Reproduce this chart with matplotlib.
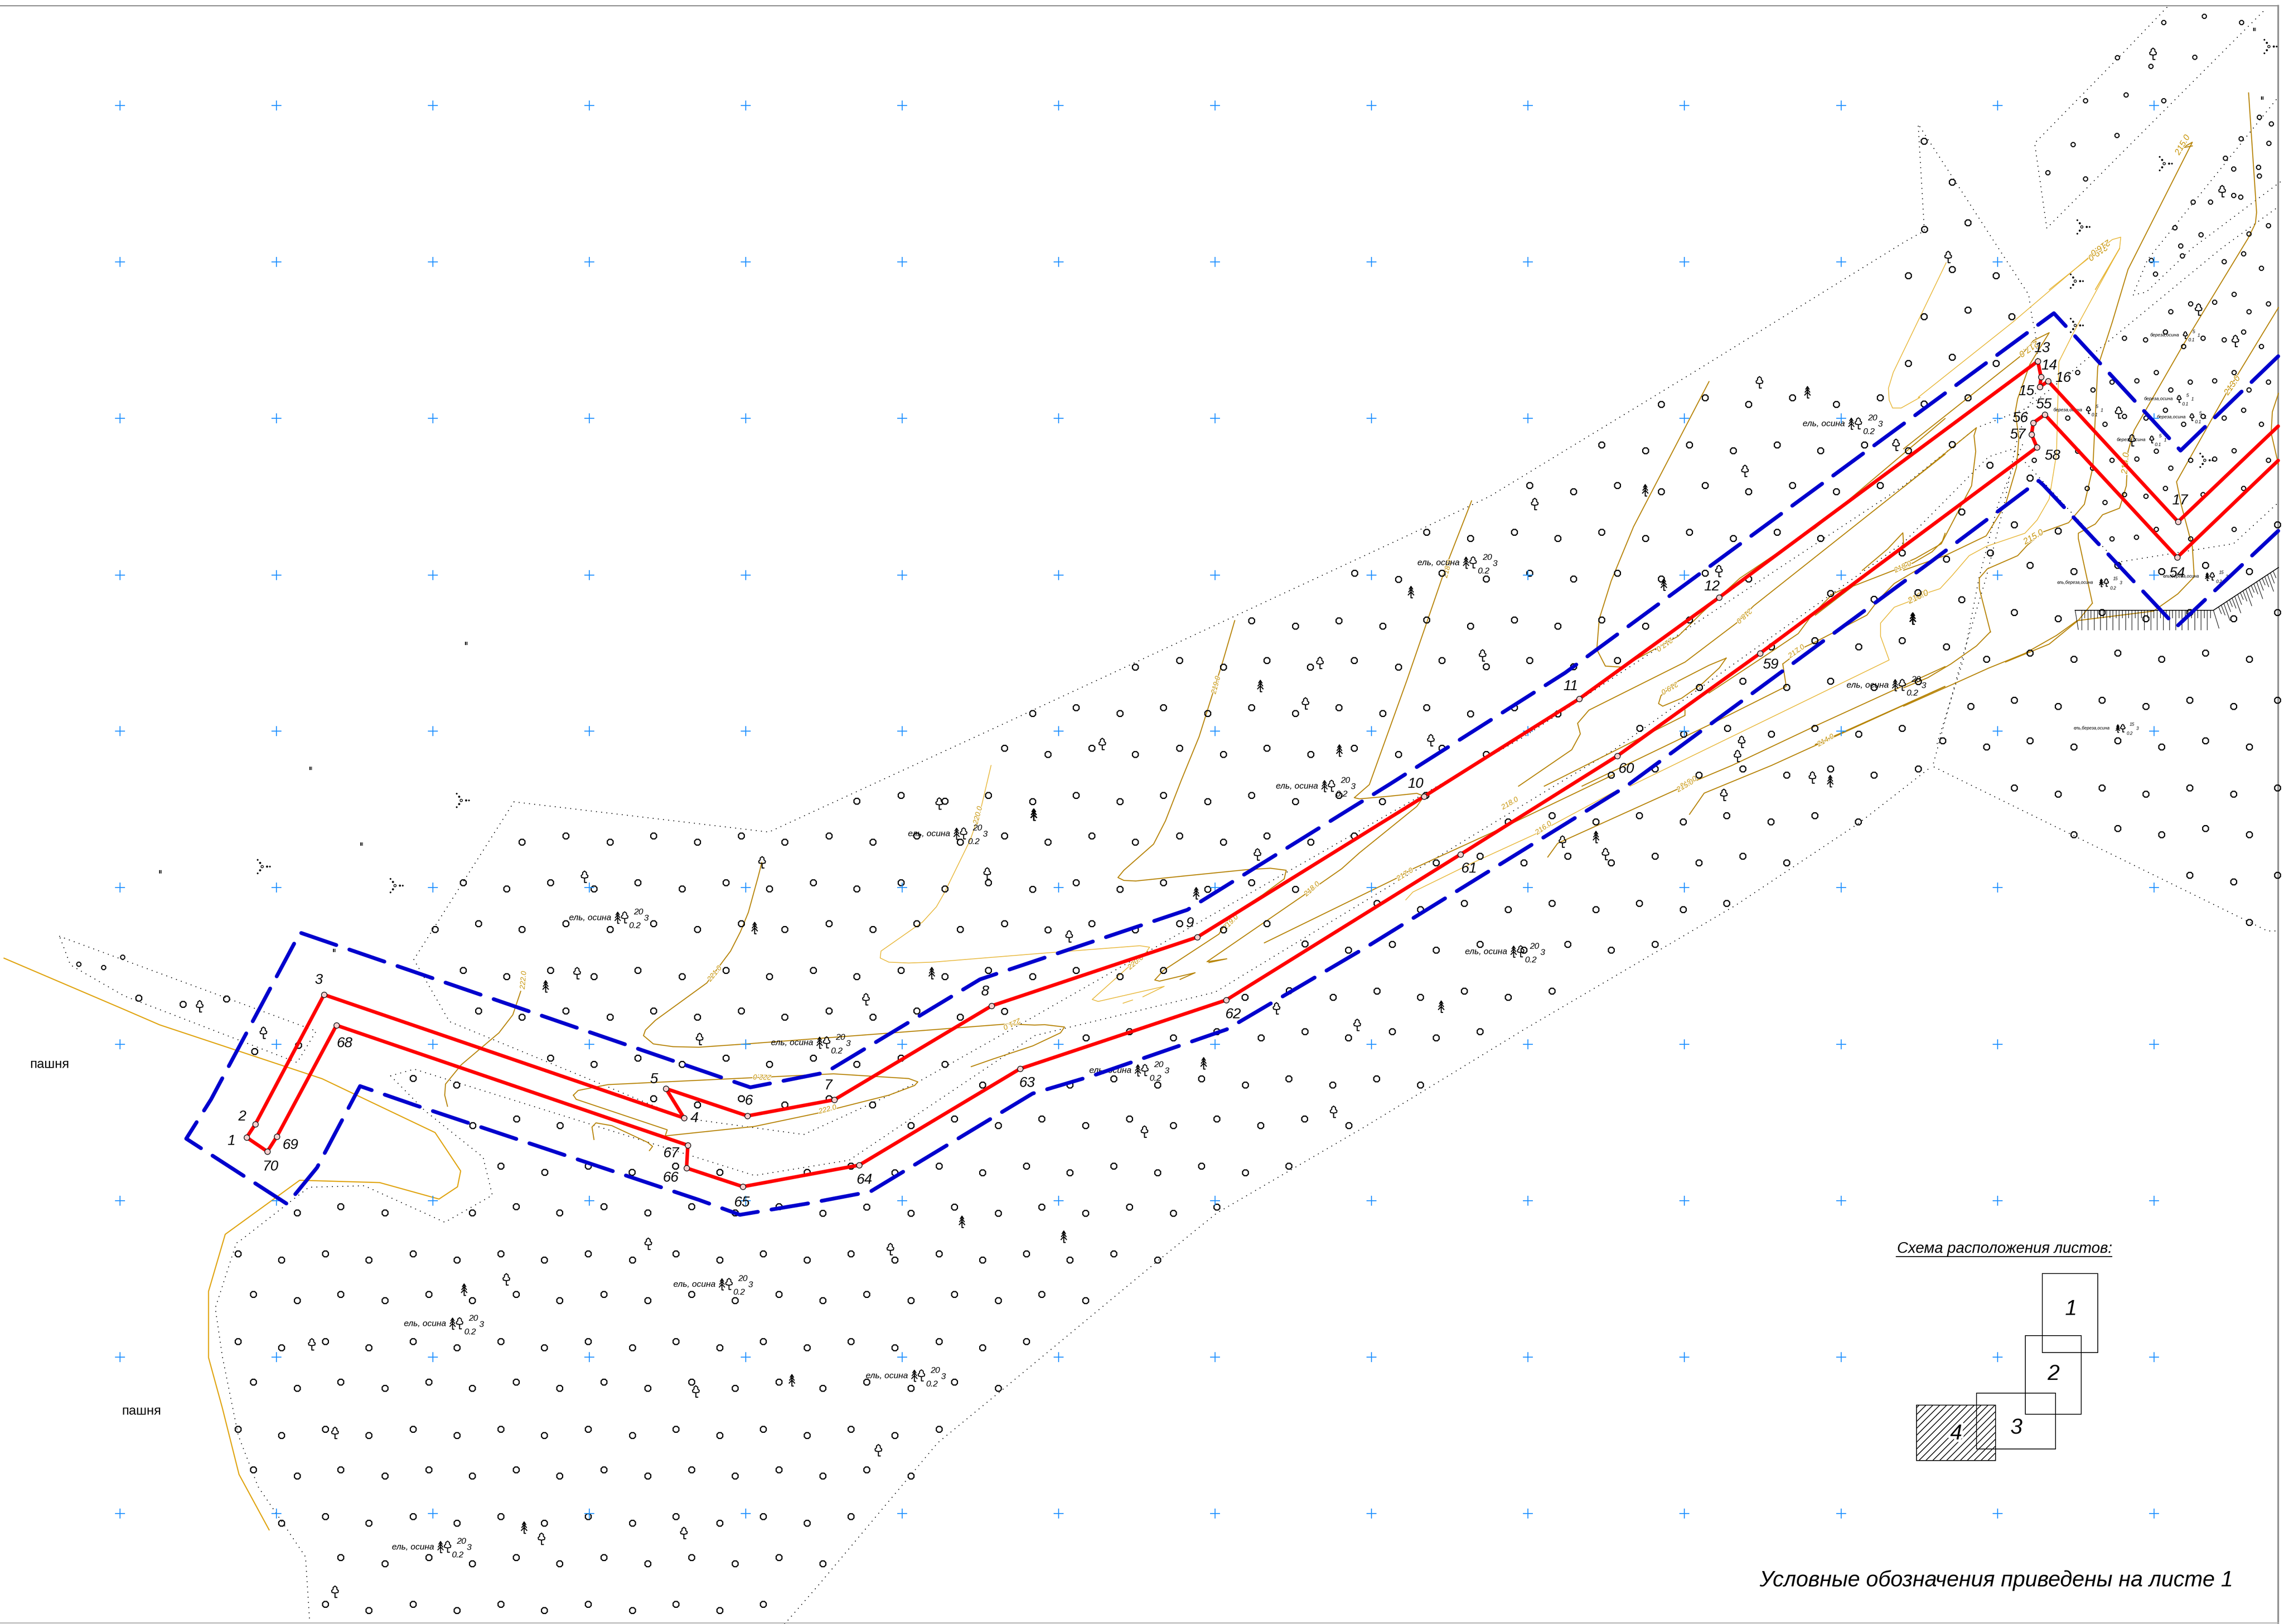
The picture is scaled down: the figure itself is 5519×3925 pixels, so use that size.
import matplotlib
matplotlib.use('Agg')
import matplotlib.pyplot as plt
from matplotlib.path import Path
from matplotlib.patches import Rectangle
import matplotlib.patheffects as pe

plt.rcParams['font.family'] = ['Liberation Sans', 'DejaVu Sans']
plt.rcParams['lines.scale_dashes'] = False
plt.rcParams['hatch.linewidth'] = 0.45

# map frames the values were read in: x0, y0, width, height (sheet pixels)
Z1 = (4400, 2900, 1119, 1025)
Z2 = (4600, 600, 919, 1000)
Z3 = (300, 2200, 1000, 800)
Z5 = (480, 2900, 1500, 1025)
Z6 = (1000, 1850, 1500, 1050)
Z7 = (1950, 2600, 1500, 1300)
Z8 = (2400, 1500, 1500, 1100)
Z9 = (3400, 900, 1300, 1000)
Z10 = (3300, 1850, 1500, 1000)
Z11 = (4600, 0, 919, 700)
Z12 = (4600, 1500, 919, 800)


def fr(box, pts):
    x0, y0, w, h = box
    return [(x0 + x * w / 1568, y0 + y * h / 1568) for x, y in pts]


def rows(box, table):
    return fr(box, [(x, y) for y, xs in table.items() for x in xs])


# survey grid
GRID_X = [290, 668, 1046, 1424, 1802, 2180, 2558, 2936, 3314, 3692, 4070, 4449, 4827, 5205]
GRID_Y = [255, 633, 1011, 1390, 1767, 2145, 2524, 2902, 3280, 3658]

# trees (big circles), by reading frame: {row y: [x, ...]}
TREES_Z5 = {
    25: [359, 802, 1023, 1245, 1466], 48: [249, 470, 691, 912, 1134, 1355],
    199: [99, 320, 541, 763, 984, 1205, 1426], 222: [209, 430, 652, 873, 1095, 1316, 1537],
    349: [138, 359, 581, 802, 1023, 1245, 1466], 372: [249, 470, 691, 912, 1134, 1355],
    523: [99, 320, 541, 763, 984, 1205, 1426], 546: [209, 430, 652, 873, 1095, 1316, 1537],
    673: [138, 359, 581, 802, 1023, 1245, 1466], 696: [249, 470, 691, 912, 1134, 1355],
    847: [99, 320, 541, 763, 984, 1205, 1426], 870: [209, 430, 652, 873, 1095, 1316, 1537],
    997: [138, 359, 581, 802, 1023, 1245, 1466], 1020: [249, 470, 691, 912, 1134, 1355],
    1171: [320, 541, 763, 984, 1205, 1426], 1194: [209, 430, 652, 873, 1095, 1316, 1537],
    1321: [359, 581, 802, 1023, 1245, 1466], 1344: [470, 691, 912, 1134, 1355],
    1495: [320, 541, 763, 984, 1205, 1426], 1518: [430, 652, 873, 1095, 1316],
}
TREES_Z7 = {
    8: [775, 996, 1217, 1438], 26: [443, 664, 885, 1107, 1328, 1549], 66: [55], 84: [165],
    126: [372, 593, 814, 1035, 1257], 145: [262, 483, 704, 925, 1146, 1368],
    263: [111, 333, 554, 775, 996, 1217], 282: [222, 443, 664, 885, 1107],
    382: [151, 372, 593, 814, 1035], 400: [40, 262, 483, 704, 925],
    519: [111, 333, 554, 775], 537: [222, 443, 664, 885],
    637: [151, 372, 593], 655: [40, 262, 483, 704],
    774: [111, 333, 554], 793: [222, 443],
    893: [151, 372], 911: [40, 262, 483],
    1030: [111, 333], 1048: [222],
    1148: [151], 1166: [40, 262], 1285: [111], 1422: [40],
}
TREES_Z6 = {
    107: [1230, 1451], 129: [1119, 1341],
    254: [384, 605, 827, 1048, 1270], 277: [273, 495, 716, 937, 1159, 1380],
    423: [124, 345, 566, 788, 1009, 1230, 1451], 445: [234, 455, 677, 898, 1119, 1341],
    570: [163, 384, 605, 827, 1048, 1270], 592: [53, 273, 495, 716, 937, 1159, 1380],
    739: [124, 345, 566, 788, 1009, 1230, 1451], 762: [234, 455, 677, 898, 1119, 1341],
    886: [163, 384, 605, 827, 1048, 1270], 908: [273, 495, 716, 937, 1159, 1380],
    1056: [345, 566, 788, 1009, 1230], 1078: [455, 677, 898, 1119, 1341],
    1153: [108], 1202: [605, 827], 1225: [716, 937], 1276: [259], 1299: [148, 369],
    1446: [219, 440, 661], 1468: [330, 551, 772, 993],
}
TREES_Z8 = {
    0: [652, 873], 18: [763, 984], 137: [470, 691, 912], 159: [359, 581, 801, 1023],
    299: [209, 430, 652, 873], 320: [99, 320, 541, 763, 984],
    439: [28, 249, 470, 691, 912], 461: [138, 359, 581, 802, 1023],
    601: [209, 430, 652, 873], 623: [99, 320, 541, 763],
    741: [28, 249, 470, 691, 912], 763: [138, 359, 581, 802],
    903: [209, 430, 652], 925: [99, 320, 541, 763],
    1043: [28, 249, 470, 691], 1065: [138, 359, 581],
    1113: [787], 1135: [897], 1205: [209, 430], 1226: [99, 320],
    1275: [747], 1297: [636, 858], 1345: [28],
    1415: [344, 565, 787], 1437: [234, 455, 676, 897],
}
TREES_Z9 = {
    96: [868, 1123, 1379], 120: [740, 995, 1251],
    274: [567, 822, 1078, 1333], 297: [695, 950, 1205],
    428: [357, 613, 868, 1123, 1379], 451: [485, 740, 995, 1251],
    605: [57, 312, 567, 822, 1078], 629: [184, 439, 695, 950, 1205],
    684: [1443],
    760: [101, 357, 613, 868], 783: [230, 485, 740, 995],
    837: [1234], 860: [1361],
    938: [57, 312, 567, 822], 961: [184, 439, 695],
    1016: [1188, 1443], 1040: [1061, 1316],
    1091: [101, 357, 613], 1115: [230, 485],
    1170: [978, 1234], 1193: [851, 1106, 1361],
    1270: [57, 312], 1293: [184, 439],
    1348: [678, 933, 1188, 1443], 1371: [806, 1061, 1316],
    1423: [101], 1447: [230],
}
TREES_Z10 = {
    13: [731, 952, 1174], 36: [620, 842, 1063, 1284],
    113: [152], 136: [42],
    190: [470, 691, 912, 1134], 214: [360, 581, 802, 1023, 1244],
    344: [289, 510, 731, 952], 368: [178, 399, 620, 842, 1063],
    522: [28, 249, 470, 691, 912], 546: [138, 360, 581, 802],
    677: [67, 289, 510, 731], 700: [178, 399, 620],
    854: [28, 249, 470], 878: [138, 360],
    1009: [67, 289], 1032: [178],
}
TREES_Z2 = [(19, 103), (200, 80), (380, 103), (83, 258), (264, 234), (445, 258), (19, 436),
            (200, 412), (380, 436), (83, 590), (264, 566), (19, 767), (200, 744), (355, 822),
            (239, 999), (520, 870), (456, 1047), (175, 1177), (356, 1154), (637, 1071),
            (520, 1201), (702, 1225), (882, 1201), (1063, 1225), (1243, 1201), (1424, 1225),
            (239, 1332), (456, 1380), (637, 1403), (818, 1380), (998, 1403), (1179, 1380),
            (1360, 1403), (1540, 1380), (1540, 1047), (58, 1305)]
TREES_Z12 = {
    153: [521, 882, 1243], 183: [341, 702, 1063, 1424], 123: [175],
    376: [456, 818, 1179, 1540], 405: [276, 637, 998, 1360],
    569: [160, 521, 882, 1243], 598: [341, 702, 1063, 1424], 702: [59], 288: [59],
    791: [456, 818, 1179, 1540], 821: [637, 998, 1360],
    984: [882, 1243], 1013: [702, 1063, 1424],
    1206: [1179, 1540], 1236: [1360], 1428: [1424],
}
TREES_Z11 = [(83, 764), (200, 985), (264, 1205), (86, 1240)]
TREES_Z3 = [(55, 416), (222, 445), (387, 420), (494, 668), (660, 638), (1094, 796)]
TREES_TOP = [(3273, 1385), (3379, 1400)]

# small circles, top right
SMALL_Z2 = [(1148, 28), (1320, 50), (1475, 75), (1401, 20), (1021, 45), (1038, 97), (1362, 174),
            (1182, 210), (1282, 204), (1504, 210), (1101, 240), (1423, 240), (910, 341), (997, 347),
            (1078, 317), (1233, 341), (1320, 347), (1401, 317), (1153, 371), (1475, 371), (1040, 471),
            (717, 471), (859, 507), (960, 501), (1181, 507), (1281, 501), (1362, 471), (1504, 507),
            (779, 537), (1101, 537), (1423, 537), (675, 643), (830, 667), (910, 637), (998, 643),
            (1078, 613), (1153, 667), (1233, 637), (1320, 643), (1401, 613), (1475, 667), (717, 768),
            (1040, 768), (1362, 767), (537, 803), (859, 803), (960, 798), (1182, 803), (1282, 798),
            (1504, 803), (778, 833), (1101, 833), (756, 910), (1078, 910), (1401, 910), (830, 963),
            (910, 933), (998, 940), (1233, 933), (1040, 1064), (1362, 1064), (859, 1100), (959, 1094),
            (1182, 1100)]
SMALL_Z11 = [(1239, 88), (1071, 122), (1393, 122), (1200, 308), (1019, 358), (749, 545), (916, 512),
             (1071, 545), (878, 732), (697, 782), (594, 935), (749, 968), (1466, 635), (1515, 669),
             (1505, 775), (1390, 750), (1360, 914), (1463, 906), (1466, 953), (1325, 855), (1360, 1058),
             (1389, 1067), (1264, 1092), (1193, 1092), (1118, 1232), (1225, 1270), (1504, 1221),
             (1423, 1265), (1141, 1330), (881, 312)]
SMALL_LEFT = [(190, 2330), (250, 2338), (296, 2313)]

# tree icons
LEAF_PTS = fr(Z5, [(1135, 165), (777, 297), (285, 537), (344, 864), (1255, 712), (866, 1256), (1225, 1235), (344, 1452)]) \
    + fr(Z6, [(1327, 140), (431, 405), (412, 752), (879, 352), (1141, 846), (721, 990), (1448, 392)]) \
    + fr(Z7, [(1330, 107), (852, 165), (210, 508), (180, 1094)]) \
    + fr(Z8, [(825, 148), (788, 288), (275, 428), (667, 808), (191, 1090), (715, 1338), (919, 1395)]) \
    + fr(Z9, [(1027, 40), (1425, 278), (984, 377), (371, 502), (908, 755), (219, 1075), (69, 1397), (974, 1403), (962, 1457)]) \
    + fr(Z10, [(904, 115), (1128, 48), (497, 292), (605, 338)]) \
    + fr(Z2, [(885, 625), (1366, 355), (1214, 235), (940, 730)]) \
    + fr(Z3, [(285, 458), (527, 585)]) \
    + fr(Z11, [(1027, 295), (1312, 1040), (182, 1395)])
FIR_PTS = fr(Z5, [(670, 335), (1498, 670), (822, 1215)]) \
    + fr(Z6, [(332, 800), (860, 590), (1308, 752), (1565, 180)]) \
    + fr(Z7, [(391, 428), (648, 472)]) \
    + fr(Z8, [(674, 228), (874, 450), (102, 672), (512, 942), (531, 1528)]) \
    + fr(Z9, [(1166, 78), (693, 450), (748, 808), (11, 836), (1473, 936)]) \
    + fr(Z10, [(1173, 62), (581, 275), (190, 918)]) \
    + fr(Z2, [(38, 1407)])
BUSH_PTS = fr(Z11, [(1073, 885), (733, 1227), (1505, 250)]) + fr(Z2, [(707, 124), (707, 292), (1240, 803)]) \
    + fr(Z6, [(119, 126)]) + [(633, 2094), (954, 2140)]
MARK_PTS = fr(Z11, [(1446, 162), (1478, 533)]) + fr(Z3, [(795, 193)]) + [(1126, 1556), (750, 1858), (387, 2108), (873, 2041)]

# stand captions
STANDS = fr(Z5, [(572, 458), (541, 1283), (1252, 312)]) + fr(Z6, [(445, 549), (955, 1001), (1301, 246)]) \
    + fr(Z7, [(202, 875)]) + fr(Z8, [(767, 570), (1245, 1141), (296, 1549)]) \
    + fr(Z9, [(92, 722), (1215, 194), (1342, 1185)])
STANDS_BIRCH = fr(Z2, [(1075, 329), (1050, 571), (1103, 639), (937, 725), (677, 613)])
STANDS_MIX = fr(Z2, [(707, 1267), (1144, 1243)]) + fr(Z12, [(775, 509)])

# boundary, point labels
P = {
    '1': (596, 2749), '2': (617, 2717), '3': (783, 2404), '4': (1653, 2702), '5': (1609, 2631),
    '6': (1806, 2697), '7': (2016, 2658), '8': (2396, 2431), '9': (2893, 2265), '10': (3441, 1925),
    '11': (3816, 1689), '12': (4154, 1444), '13': (4924, 873), '14': (4932, 911), '15': (4929, 935),
    '16': (4949, 921), '17': (5263, 1261),
    '54': (5261, 1347), '55': (4941, 1002), '56': (4913, 1022), '57': (4909, 1050), '58': (4922, 1081),
    '59': (4253, 1579), '60': (3908, 1827), '61': (3529, 2065), '62': (2963, 2417), '63': (2465, 2583),
    '64': (2076, 2816), '65': (1795, 2868), '66': (1659, 2823), '67': (1662, 2768), '68': (813, 2478),
    '69': (669, 2747), '70': (646, 2783),
}
RED_UPPER = ['70', '1', '2', '3', '4', '5', '6', '7', '8', '9', '10', '11', '12', '13', '14', '15', '16', '17']
RED_LOWER = ['70', '69', '68', '67', '66', '65', '64', '63', '62', '61', '60', '59', '58', '57', '56', '55', '54']
RED_END_UPPER = (5505, 1030)
RED_END_LOWER = (5505, 1113)
LABELS_Z3 = {'1': (405, 1093), '2': (446, 978), '3': (737, 330), '68': (835, 630), '69': (630, 1112), '70': (555, 1215)}
LABELS_Z6 = {'4': (709, 1273), '5': (606, 1132), '6': (845, 1210), '7': (1046, 1155), '8': (1442, 816), '67': (650, 1400),
             '66': (648, 1488), '64': (1138, 1496), '63': (1548, 1146)}
LABELS_Z8 = {'9': (497, 1043), '10': (1067, 562), '61': (1201, 855), '62': (606, 1357), '11': (1458, 226)}
LABELS_Z9 = {'12': (888, 811), '59': (1060, 1108), '60': (638, 1503)}
LABELS_Z2 = {'13': (571, 378), '14': (600, 445), '15': (505, 541), '16': (658, 492), '17': (1138, 955), '55': (577, 592),
             '56': (481, 643), '57': (470, 707), '58': (613, 787), '54': (1127, 1232)}
LABEL_65 = (1792, 2907)

# setback line, blue
BLUE = [(5505, 861), (5269, 1089), (4963, 757), (3782, 1626), (3357, 1896), (2869, 2199), (2368, 2367), (1995, 2592),
        (1813, 2628), (725, 2254), (510, 2657), (450, 2752), (694, 2910), (766, 2822), (870, 2625), (1000, 2670),
        (1689, 2900), (1788, 2936), (1950, 2909), (2103, 2880), (2495, 2643), (2640, 2600), (2964, 2488), (3300, 2290),
        (3930, 1900), (4668, 1356), (4926, 1162), (4937, 1172), (5259, 1515), (5505, 1283)]

# dotted land boundaries
DOT_LINES = [
    [(144, 2263), (764, 2492), (718, 2568), (300, 2407), (170, 2332), (144, 2263)],
    [(1242, 1938), (1858, 2011), (2400, 1761), (3400, 1295), (3599, 1200), (4092, 900), (4603, 584), (4650, 558),
     (4635, 300), (4831, 603), (4902, 712), (4910, 766), (4919, 810), (4925, 880), (4930, 930), (4899, 986),
     (4870, 1078), (4843, 1219), (4799, 1397), (4740, 1595), (4670, 1852), (5479, 2250), (5505, 2250)],
    [(4887, 1075), (4828, 1219), (4782, 1397), (4744, 1595), (4680, 1800)],
    [(1242, 1938), (1000, 2319), (1086, 2469), (1651, 2702), (1942, 2742), (2215, 2617), (2500, 2456), (3682, 1781),
     (4600, 1174), (4776, 1034), (4899, 986), (5368, 600), (5505, 500)],
    [(944, 2600), (1001, 2584), (1823, 2841), (2052, 2804), (2500, 2503), (2936, 2398), (3900, 1812), (4600, 1311),
     (4805, 1104), (4864, 1085), (5116, 1359), (5397, 1314), (5505, 1215)],
    fr(Z3, [(1010, 785), (1140, 950), (1360, 1170), (1395, 1350), (1215, 1478), (910, 1305), (700, 1312), (445, 1560)])
    + fr(Z5, [(95, 160), (42, 400), (60, 580), (100, 870), (150, 1060), (215, 1200), (270, 1320), (280, 1550)]),
    [(1896, 3925), (1977, 3832), (2266, 3487), (2428, 3354), (2792, 3052), (2940, 2932), (3300, 2722), (3683, 2488),
     (4194, 2188), (4491, 1990), (4668, 1852)],
    fr(Z11, [(1085, 40), (880, 320), (540, 775), (590, 1235), (1495, 45)]),
    [(5500, 241), (5189, 628), (5154, 713), (5186, 706), (5297, 600), (5519, 433)],
]

# field edge
ROAD = fr(Z3, [(-455, 227), (0, 470), (135, 543), (750, 798), (1178, 1053), (1275, 1235), (1263, 1310), (1193, 1368),
               (968, 1290), (665, 1279), (383, 1535)]) \
    + fr(Z5, [(25, 338), (25, 583), (60, 770), (102, 1015), (178, 1220)])

# contours
CONTOURS = [
    fr(Z6, [(270, 815), (250, 900), (215, 965), (120, 1080), (80, 1150), (78, 1190), (85, 1230)]),
    fr(Z6, [(879, 350), (870, 400), (845, 530), (825, 600), (800, 670), (740, 785), (610, 920), (585, 955), (580, 975),
            (605, 1005), (655, 1015), (720, 1017), (840, 1005), (1210, 965), (1500, 933), (1568, 937)])
    + fr(Z8, [(130, 1392), (180, 1400), (170, 1420), (100, 1465), (0, 1510)]) + fr(Z6, [(1408, 1087)]),
    fr(Z6, [(403, 1190), (415, 1173), (490, 1152), (1060, 1113), (1250, 1130), (1273, 1142), (1265, 1155), (1200, 1190),
            (1020, 1255), (860, 1303), (635, 1337), (640, 1315), (410, 1205), (403, 1190)]),
    fr(Z6, [(455, 1350), (450, 1305), (460, 1290), (500, 1300), (590, 1360), (603, 1375), (595, 1390)]),
    fr(Z8, [(610, 0), (580, 140), (550, 270), (520, 400), (475, 550), (435, 690), (405, 770), (330, 860), (315, 885),
            (330, 895), (360, 897), (480, 880), (640, 858), (700, 853), (740, 860), (735, 890), (680, 945), (600, 1015),
            (570, 1080), (430, 1205), (408, 1238), (420, 1242), (510, 1213), (472, 1236)]),
    fr(Z9, [(188, 487), (115, 730), (0, 1165)])
    + fr(Z8, [(950, 565), (912, 610), (925, 614), (1000, 605), (1070, 595), (1088, 605), (1070, 640), (925, 800), (880, 855),
              (780, 950), (540, 1175), (590, 1165), (545, 1178)]),
    fr(Z8, [(685, 1110), (1015, 890), (1060, 855), (1300, 705), (1568, 530)]),
    fr(Z9, [(880, 35), (660, 585), (595, 790), (560, 935), (553, 1050), (578, 1113), (625, 1117), (720, 1050), (790, 1000),
            (860, 910), (970, 780), (1130, 640), (1190, 590), (1568, 175)]),
    fr(Z9, [(325, 1568), (480, 1430), (505, 1370), (497, 1330), (530, 1280), (810, 1098), (960, 950), (1010, 885), (1568, 310)]),
    fr(Z9, [(930, 1083), (880, 1110), (790, 1170), (740, 1225), (733, 1255), (745, 1265), (800, 1235), (860, 1180), (910, 1120), (930, 1083)]),
    fr(Z9, [(1327, 750), (1400, 670), (1445, 608), (1447, 650), (1437, 665)]),
    fr(Z9, [(1190, 920), (1300, 810), (1415, 752), (1475, 722), (1530, 680), (1560, 640), (1568, 610)]),
    fr(Z9, [(400, 1568), (810, 1300), (810, 1280)]),
    fr(Z9, [(1095, 1105), (1160, 1040), (1185, 1025), (1340, 920), (1375, 860), (1420, 800), (1530, 715)]),
    fr(Z9, [(1095, 1105), (1105, 1190), (890, 1330), (510, 1568)]),
    fr(Z9, [(880, 1215), (1060, 1060), (1140, 990), (1180, 920), (1240, 840), (1290, 810)]),
    fr(Z9, [(1190, 1410), (1568, 1190)]) + fr(Z10, [(1025, 0), (855, 105), (818, 185)]),
    fr(Z9, [(1568, 1115), (1190, 1340)]) + fr(Z10, [(925, 0), (830, 60), (780, 95), (500, 285), (485, 295), (460, 347)]),
    fr(Z12, [(0, 318), (100, 270), (195, 205), (300, 120), (358, 52)])
    + fr(Z2, [(358, 1455), (312, 1290), (312, 1250), (345, 1215), (470, 1165), (510, 1125), (575, 1075), (680, 1040), (745, 970),
              (780, 830), (800, 450), (860, 280), (925, 80)]) + fr(Z11, [(1190, 770), (1150, 800), (1190, 790)]),
    fr(Z12, [(0, 405), (215, 295), (350, 225), (500, 155), (630, 70), (715, 0)])
    + fr(Z2, [(1030, 1375), (1130, 1310), (1198, 1245), (1190, 1130), (1145, 975), (1125, 885), (1330, 550), (1545, 225)]),
    fr(Z2, [(778, 1345), (720, 1100), (720, 1080), (790, 1045), (820, 1010), (890, 985), (918, 900), (925, 770), (950, 690),
            (1150, 370), (1395, 0)]) + fr(Z11, [(1420, 1290), (1450, 1210), (1455, 1150), (1422, 503)]),
    fr(Z2, [(778, 1345), (720, 1410), (600, 1500), (420, 1568)]),
    fr(Z2, [(0, 760), (480, 410), (535, 350), (600, 320), (520, 440), (470, 570), (460, 620), (475, 720), (465, 830), (420, 970),
            (340, 1090), (170, 1165), (0, 1220)]),
    fr(Z2, [(0, 905), (300, 680), (290, 710), (297, 770), (280, 900), (155, 1120), (50, 1175), (0, 1195)]),
    fr(Z2, [(1545, 550), (1520, 620), (1515, 700), (1545, 820)]),
]
CONTOURS_LIGHT = [
    fr(Z6, [(1458, 0), (1430, 170), (1405, 270), (1340, 460), (1320, 510), (1285, 565), (1180, 670), (1178, 695), (1200, 710),
            (1250, 713), (1310, 710), (1568, 680)])
    + fr(Z8, [(180, 1140), (370, 1120), (395, 1125), (380, 1155), (340, 1195), (250, 1305), (265, 1312), (432, 1260), (378, 1296)]),
    fr(Z8, [(328, 1318), (352, 1307)]),
    fr(Z8, [(1042, 962), (1060, 935), (1210, 835), (1370, 735), (1568, 590)]),
    fr(Z9, [(650, 1568), (1405, 1090), (1380, 1000), (1380, 950), (1420, 890), (1460, 870)])
    + fr(Z2, [(100, 1305), (150, 1290), (200, 1240), (270, 1165), (340, 1130), (500, 1080), (550, 1030), (600, 950), (630, 780),
              (635, 600), (640, 430), (700, 320), (890, 0)])
    + fr(Z11, [(790, 1568), (890, 1347), (895, 1284), (860, 1297), (775, 1385), (600, 1568)]),
    fr(Z2, [(775, 25), (450, 280), (60, 565)]) + fr(Z9, [(1495, 95), (1440, 135), (1415, 135), (1405, 105), (1403, 60), (1417, 0)])
    + fr(Z2, [(175, 55)]),
]
# text, x, y, rotation, size in each frame
CONTOUR_TEXT = [
    (Z6, '222.0', 277, 775, 85, 4.2), (Z6, '221.0', 760, 752, 50, 4.2), (Z6, '222.0', 880, 1123, 178, 4.2),
    (Z6, '222.0', 1045, 1242, 15, 4.2), (Z6, '220.0', 1425, 180, 75, 4.2), (Z8, '221.0', 47, 1388, 205, 4.2),
    (Z8, '220.0', 360, 1178, 40, 4.2), (Z8, '219.0', 563, 222, 75, 4.2), (Z8, '219.0', 600, 1040, 45, 4.2),
    (Z8, '218.0', 805, 925, 42, 4.2), (Z8, '217.0', 1040, 875, 32, 4.2), (Z8, '218.0', 1305, 630, 30, 4.2),
    (Z8, '216.0', 1390, 715, 35, 4.2), (Z9, '218.0', 118, 745, 75, 4.2), (Z9, '217.0', 750, 1030, 215, 4.2),
    (Z9, '218.0', 982, 922, 222, 4.2), (Z9, '219.0', 765, 1195, 210, 4.2), (Z9, '218.0', 1445, 738, 25, 4.2),
    (Z9, '216.0', 1487, 855, 30, 4.2), (Z9, '217.0', 1135, 1058, 35, 4.2), (Z9, '215.0', 820, 1555, 30, 4.2),
    (Z9, '214.0', 1220, 1395, 30, 4.2), (Z10, '215.0', 807, 78, 30, 4.2), (Z2, '215.0', 535, 1095, 30, 5.0),
    (Z2, '216.0', 60, 1322, 25, 5.0), (Z2, '213.0', 1355, 520, 55, 5.0), (Z2, '214.0', 915, 815, 85, 5.0),
    (Z2, '217.0', 515, 380, 215, 5.0), (Z2, '219.0', 800, 15, 215, 5.0), (Z11, '215.0', 1150, 785, 60, 5.0),
    (Z11, '216.0', 810, 1340, 215, 5.0),
]

# bluff hachures, frame Z2
BLUFF_LINE = [(707, 1372), (1277, 1372), (1545, 1210)]
BLUFF_LONG = [(707, 1372, 720, 1445), (733, 1372, 733, 1445), (759, 1372, 759, 1445), (785, 1372, 785, 1445), (810, 1372, 810, 1445),
              (836, 1372, 836, 1445), (862, 1372, 862, 1445), (888, 1372, 888, 1445), (914, 1372, 914, 1445), (940, 1372, 940, 1445),
              (966, 1372, 966, 1445), (992, 1372, 992, 1445), (1018, 1372, 1018, 1445), (1044, 1372, 1044, 1445), (1069, 1372, 1069, 1445),
              (1095, 1372, 1095, 1445), (1121, 1372, 1121, 1445), (1147, 1372, 1147, 1445), (1173, 1372, 1173, 1445), (1199, 1372, 1199, 1445),
              (1225, 1372, 1225, 1445), (1251, 1372, 1251, 1445), (1277, 1372, 1300, 1440),
              (1320, 1346, 1345, 1410), (1365, 1319, 1390, 1382), (1410, 1291, 1435, 1355), (1455, 1264, 1480, 1328), (1500, 1237, 1525, 1300)]
BLUFF_SHORT = [(746, 1372, 746, 1400), (772, 1372, 772, 1400), (798, 1372, 798, 1400), (823, 1372, 823, 1400), (849, 1372, 849, 1400),
               (875, 1372, 875, 1400), (901, 1372, 901, 1400), (927, 1372, 927, 1400), (953, 1372, 953, 1400), (979, 1372, 979, 1400),
               (1005, 1372, 1005, 1400), (1031, 1372, 1031, 1400), (1057, 1372, 1057, 1400), (1082, 1372, 1082, 1400), (1108, 1372, 1108, 1400),
               (1134, 1372, 1134, 1400), (1160, 1372, 1160, 1400), (1186, 1372, 1186, 1400), (1212, 1372, 1212, 1400), (1238, 1372, 1238, 1400),
               (1264, 1372, 1264, 1400), (1298, 1359, 1310, 1385), (1343, 1332, 1355, 1358), (1388, 1305, 1400, 1331), (1433, 1278, 1445, 1304),
               (1478, 1250, 1490, 1276), (1523, 1223, 1535, 1249),
               (1309, 1352, 1325, 1390), (1332, 1339, 1348, 1377), (1354, 1326, 1370, 1364), (1377, 1312, 1393, 1350), (1399, 1299, 1415, 1337),
               (1422, 1285, 1438, 1323), (1444, 1272, 1460, 1310), (1467, 1258, 1483, 1296), (1489, 1245, 1505, 1283), (1512, 1231, 1528, 1269)]

# sheet layout inset, frame Z1: left, top, right, bottom
SHEETS = {'1': (749, 272, 938, 564), '2': (692, 501, 881, 793), '3': (527, 715, 795, 921), '4': (323, 758, 592, 964)}
SHEET_NUM = {'1': (846, 405), '2': (787, 645), '3': (662, 845), '4': (458, 865)}

fig = plt.figure(figsize=(5519 / 300, 3925 / 300), dpi=300)
ax = fig.add_axes([0, 0, 1, 1])
ax.set_xlim(0, 5519)
ax.set_ylim(3925, 0)
ax.axis('off')


def xy(pts):
    return [p[0] for p in pts], [p[1] for p in pts]


# sheet frame
ax.plot([0, 5505, 5505], [14, 14, 3925], color='#707070', lw=0.5)
ax.plot([5505, 5505], [14, 3925], color='#909090', lw=1.0)
ax.plot([0, 5505], [3922, 3922], color='#b0b0b0', lw=0.6)

for line in DOT_LINES:
    ax.plot(*xy(line), color='black', lw=0.6, ls=(0, (0.01, 3.0)), dash_capstyle='round', zorder=2)

for line in CONTOURS:
    ax.plot(*xy(line), color='#B8860B', lw=0.58, zorder=3)
for line in CONTOURS_LIGHT:
    ax.plot(*xy(line), color='#E8B83C', lw=0.45, zorder=3)
ax.plot(*xy(ROAD), color='#E0A512', lw=0.65, zorder=3)

for box, txt, x, y, rot, size in CONTOUR_TEXT:
    px = fr(box, [(x, y)])[0]
    ax.text(px[0], px[1], txt, color='#C8960C', fontsize=size, style='italic', rotation=rot,
            ha='center', va='center', rotation_mode='anchor', zorder=4,
            path_effects=[pe.withStroke(linewidth=0.8, foreground='white')])

# hachures
ax.plot(*xy(fr(Z2, BLUFF_LINE)), color='black', lw=0.5, zorder=3)
for x1, y1, x2, y2 in BLUFF_LONG + BLUFF_SHORT:
    ax.plot(*xy(fr(Z2, [(x1, y1), (x2, y2)])), color='black', lw=0.3, zorder=3)

# trees
big = rows(Z5, TREES_Z5) + rows(Z7, TREES_Z7) + rows(Z6, TREES_Z6) + rows(Z8, TREES_Z8) + rows(Z9, TREES_Z9) \
    + rows(Z10, TREES_Z10) + rows(Z12, TREES_Z12) + fr(Z2, TREES_Z2) + fr(Z11, TREES_Z11) + fr(Z3, TREES_Z3) + TREES_TOP
small = fr(Z2, SMALL_Z2) + fr(Z11, SMALL_Z11) + SMALL_LEFT
ax.plot(*xy(big), ls='none', marker='8', ms=3.75, mfc='none', mec='black', mew=0.68, zorder=5)
ax.plot(*xy(small), ls='none', marker='8', ms=2.4, mfc='none', mec='black', mew=0.6, zorder=5)

leaf_path = Path([(0, -0.05), (-0.45, 0.05), (-0.5, 0.32), (-0.28, 0.52), (-0.28, 0.78), (0, 1.0), (0.28, 0.78), (0.28, 0.52), (0.5, 0.32),
                  (0.45, 0.05), (0, -0.05), (0, -0.7), (0.35, -0.7)],
                 [Path.MOVETO] + [Path.LINETO] * 12)
fir_path = Path([(0, 1), (0, -0.7), (0.28, -0.7), (-0.28, 0.55), (0, 1), (0.28, 0.55), (-0.38, 0.12), (0, 0.6), (0.38, 0.12),
                 (-0.45, -0.32), (0, 0.18), (0.45, -0.32)],
                [Path.MOVETO, Path.LINETO, Path.LINETO, Path.MOVETO, Path.LINETO, Path.LINETO,
                 Path.MOVETO, Path.LINETO, Path.LINETO, Path.MOVETO, Path.LINETO, Path.LINETO])
bush_path = Path.make_compound_path(
    Path.circle((12, 0), 2.6), Path.circle((19, 0), 2.1), Path.circle((-5, 9), 2.6),
    Path.circle((-11, 16.5), 2.1), Path.circle((-5, -9), 2.6), Path.circle((-11, -16.5), 2.1))
ax.plot(*xy(LEAF_PTS), ls='none', marker=leaf_path, ms=7.8, mfc='none', mec='black', mew=0.6, zorder=5)
ax.plot(*xy(FIR_PTS), ls='none', marker=fir_path, ms=7.8, mfc='none', mec='black', mew=0.6, zorder=5)
ax.plot(*xy(BUSH_PTS), ls='none', marker=bush_path, ms=10, mfc='black', mec='none', zorder=5)
ax.plot(*xy(BUSH_PTS), ls='none', marker='o', ms=1.4, mfc='none', mec='black', mew=0.4, zorder=5)
for x, y in MARK_PTS:
    ax.text(x, y, 'III', fontsize=2.4, fontweight='bold', ha='center', va='center', zorder=5)


def stand(x, y, name, leaf=True, fir=False, nums=('20', '3', '0.2'), size=5.0, k=1.0, dx=0.0):
    ax.text(x, y, name, fontsize=size, style='italic', ha='center', va='center', zorder=6)
    if fir:
        ax.plot([x + 66 * k + dx], [y + 2], marker=fir_path, ms=7.6 * k, mfc='none', mec='black', mew=0.55, zorder=6)
    if leaf:
        ax.plot([x + 83 * k + dx], [y + 1], marker=leaf_path, ms=7.6 * k, mfc='none', mec='black', mew=0.55, zorder=6)
    ax.text(x + 117 * k + dx, y - 13 * k, nums[0], fontsize=size, style='italic', ha='center', va='center', zorder=6)
    ax.text(x + 136 * k + dx, y + 2 * k, nums[1], fontsize=size, style='italic', ha='center', va='center', zorder=6)
    ax.text(x + 108 * k + dx, y + 20 * k, nums[2], fontsize=size, style='italic', ha='center', va='center', zorder=6)


for x, y in STANDS:
    stand(x, y, 'ель, осина', fir=True)
for x, y in STANDS_BIRCH:
    stand(x, y, 'береза,осина', nums=('5', '1', '0.1'), size=2.7, k=0.62, dx=-2)
for x, y in STANDS_MIX:
    stand(x, y, 'ель,береза,осина', fir=True, nums=('15', '3', '0.2'), size=2.6, k=0.68, dx=18)

# crosses
gx = [x for x in GRID_X for y in GRID_Y]
gy = [y for x in GRID_X for y in GRID_Y]
ax.plot(gx, gy, ls='none', marker='+', ms=5.8, mec='#1E90FF', mew=0.55, zorder=7)

# setback and boundary
ax.plot(*xy(BLUE), color='#0000CD', lw=2.2, ls=(0, (21.5, 8.0)), dash_capstyle='round', dash_joinstyle='round', zorder=8)
red_up = [P[k] for k in RED_UPPER] + [RED_END_UPPER]
red_lo = [P[k] for k in RED_LOWER] + [RED_END_LOWER]
ax.plot(*xy(red_up), color='#FF0000', lw=2.05, solid_joinstyle='round', solid_capstyle='round', zorder=9)
ax.plot(*xy(red_lo), color='#FF0000', lw=2.05, solid_joinstyle='round', solid_capstyle='round', zorder=9)
ax.plot(*xy(list(P.values())), ls='none', marker='o', ms=3.2, mfc='#F8CFCF', mec='#222222', mew=0.45, zorder=10)

for box, table in [(Z3, LABELS_Z3), (Z6, LABELS_Z6), (Z8, LABELS_Z8), (Z9, LABELS_Z9), (Z2, LABELS_Z2)]:
    for name, pos in table.items():
        px = fr(box, [pos])[0]
        ax.text(px[0], px[1], name, fontsize=8.3, style='italic', ha='center', va='center', zorder=11)
ax.text(LABEL_65[0], LABEL_65[1], '65', fontsize=8.3, style='italic', ha='center', va='center', zorder=11)

ax.text(120, 2573, 'пашня', fontsize=7.6, ha='center', va='center')
ax.text(342, 3411, 'пашня', fontsize=7.6, ha='center', va='center')

# sheet layout
ax.text(4584, 3018, 'Схема расположения листов:', fontsize=8.9, style='italic', ha='left', va='center')
ax.plot(*xy(fr(Z1, [(255, 210), (985, 210)])), color='black', lw=0.5)
for key, (l, t, r, b) in SHEETS.items():
    (x1, y1), (x2, y2) = fr(Z1, [(l, t), (r, b)])
    hatched = key == '4'
    ax.add_patch(Rectangle((x1, y1), x2 - x1, y2 - y1, fill=False, ec='black', lw=0.45,
                           hatch='//////' if hatched else None, zorder=3))
    nx, ny = fr(Z1, [SHEET_NUM[key]])[0]
    ax.text(nx, ny, key, fontsize=12.5, style='italic', ha='center', va='center', zorder=4,
            path_effects=[pe.withStroke(linewidth=3, foreground='white')] if hatched else None)
ax.text(5396, 3820, 'Условные обозначения приведены на листе 1', fontsize=12.7, style='italic', ha='right', va='center')

fig.savefig('out.png', dpi=300, facecolor='white')
